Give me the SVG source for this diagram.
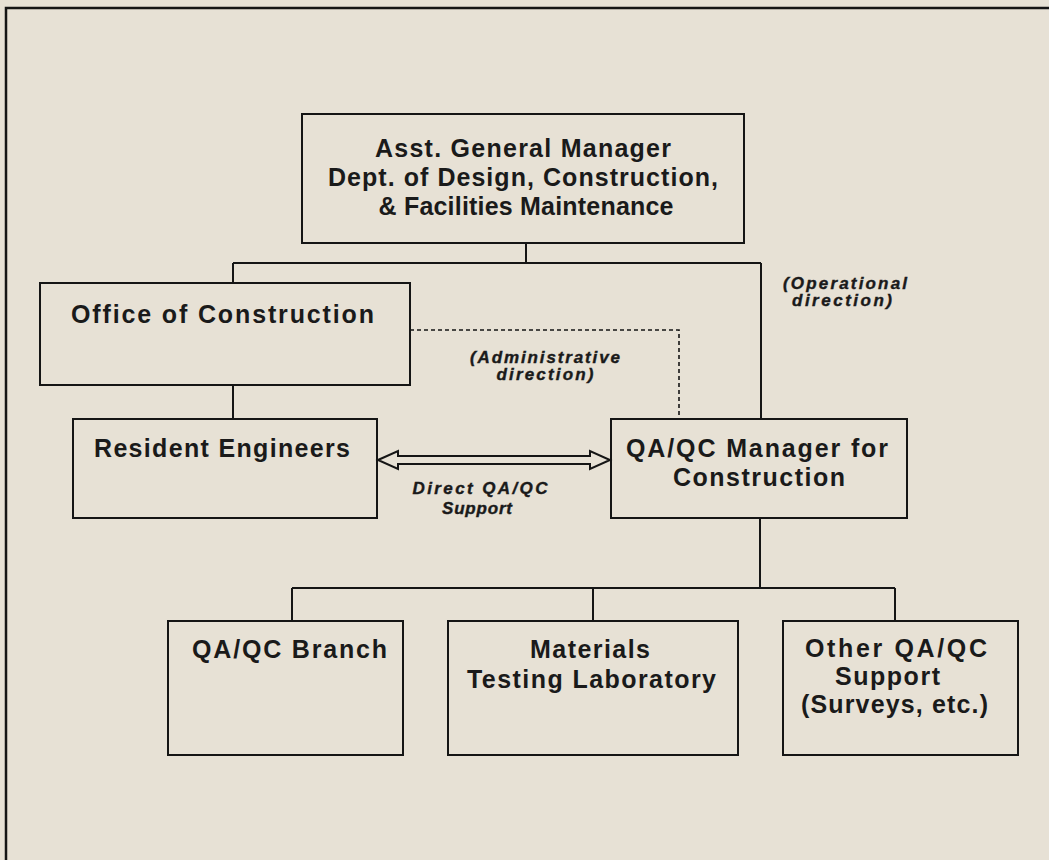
<svg xmlns="http://www.w3.org/2000/svg" width="1049" height="860" viewBox="0 0 1049 860">
<style>
.box{fill:none;stroke:#151515;stroke-width:2}
.ln{fill:none;stroke:#151515;stroke-width:2}
.dash{fill:none;stroke:#151515;stroke-width:1.6;stroke-dasharray:4 3}
.t{font-family:"Liberation Sans",Arial,sans-serif;font-weight:bold;font-size:25px;fill:#1a1a1a}
.c{text-anchor:middle}
.i{font-family:"Liberation Sans",Arial,sans-serif;font-weight:bold;font-style:italic;font-size:17px;fill:#1a1a1a;stroke:#1a1a1a;stroke-width:0.4;text-anchor:middle}
</style>
<rect width="1049" height="860" fill="#e7e1d5"/>
<path d="M6 860 V8 H1049" fill="none" stroke="#151515" stroke-width="2.5"/>
<g id="connectors">
<path class="ln" d="M526 243 V263 M233 263 H761 M233 263 V283 M761 263 V419 M233 385 V419 M760 518 V588 M292 588 H895 M292 588 V621 M593 588 V621 M895 588 V621"/>
<path class="dash" d="M410 330 H679 V419"/>
<polygon points="378,460 398,451 398,456 590,456 590,451 610,460 590,469 590,464 398,464 398,469" fill="#e7e1d5" stroke="#151515" stroke-width="2" stroke-linejoin="miter"/>
<text class="i" x="545" y="363" textLength="150" lengthAdjust="spacing">(Administrative</text>
<text class="i" x="545" y="380" textLength="97" lengthAdjust="spacing">direction)</text>
<text class="i" x="845" y="289" textLength="124" lengthAdjust="spacing">(Operational</text>
<text class="i" x="842" y="306" textLength="100" lengthAdjust="spacing">direction)</text>
<text class="i" x="480" y="494" textLength="135" lengthAdjust="spacing">Direct QA/QC</text>
<text class="i" x="477" y="514" textLength="70" lengthAdjust="spacing">Support</text>
</g>
<g id="agm">
<rect class="box" x="302" y="114" width="442" height="129"/>
<text class="t c" x="523" y="157" textLength="296" lengthAdjust="spacing">Asst. General Manager</text>
<text class="t c" x="523" y="186" textLength="390" lengthAdjust="spacing">Dept. of Design, Construction,</text>
<text class="t c" x="526" y="215" textLength="295" lengthAdjust="spacing">&amp; Facilities Maintenance</text>
</g>
<g id="office">
<rect class="box" x="40" y="283" width="370" height="102"/>
<text class="t" x="71" y="323" textLength="303" lengthAdjust="spacing">Office of Construction</text>
</g>
<g id="resident">
<rect class="box" x="73" y="419" width="304" height="99"/>
<text class="t" x="94" y="457" textLength="256" lengthAdjust="spacing">Resident Engineers</text>
</g>
<g id="qamanager">
<rect class="box" x="611" y="419" width="296" height="99"/>
<text class="t" x="626" y="457" textLength="262" lengthAdjust="spacing">QA/QC Manager for</text>
<text class="t" x="673" y="486" textLength="172" lengthAdjust="spacing">Construction</text>
</g>
<g id="branch">
<rect class="box" x="168" y="621" width="235" height="134"/>
<text class="t" x="192" y="658" textLength="195" lengthAdjust="spacing">QA/QC Branch</text>
</g>
<g id="materials">
<rect class="box" x="448" y="621" width="290" height="134"/>
<text class="t" x="530" y="658" textLength="120" lengthAdjust="spacing">Materials</text>
<text class="t" x="467" y="688" textLength="249" lengthAdjust="spacing">Testing Laboratory</text>
</g>
<g id="other">
<rect class="box" x="783" y="621" width="235" height="134"/>
<text class="t" x="805" y="657" textLength="182" lengthAdjust="spacing">Other QA/QC</text>
<text class="t" x="835" y="685" textLength="105" lengthAdjust="spacing">Support</text>
<text class="t" x="801" y="713" textLength="187" lengthAdjust="spacing">(Surveys, etc.)</text>
</g>
</svg>
